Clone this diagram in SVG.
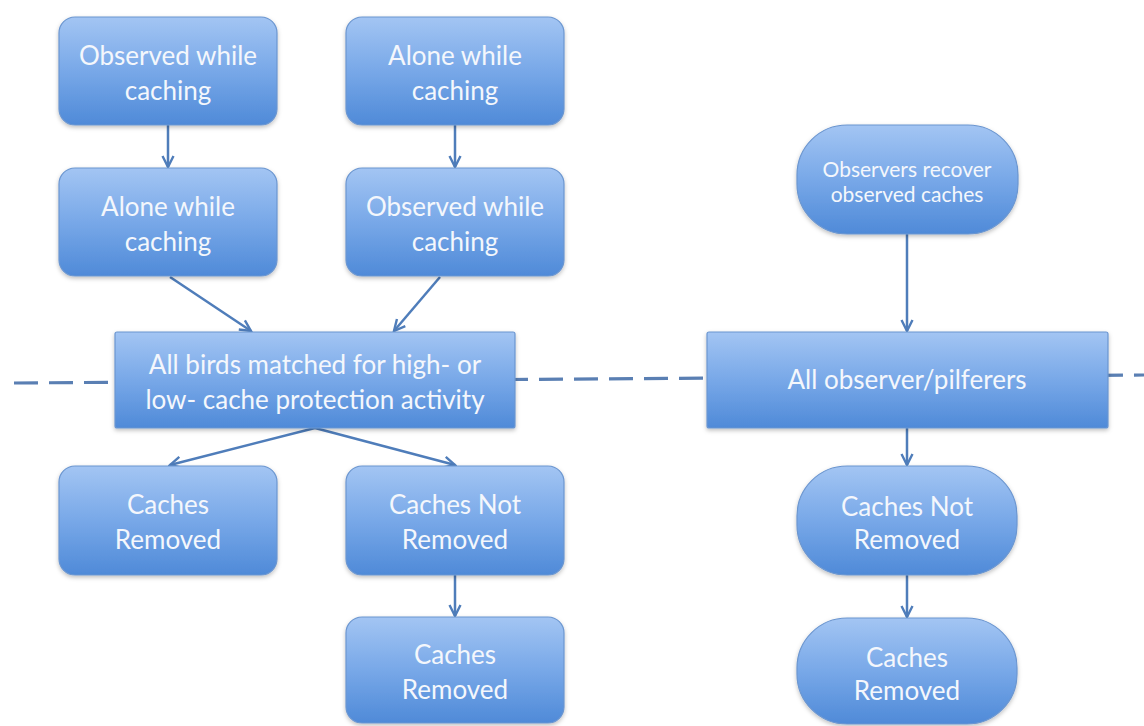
<svg xmlns="http://www.w3.org/2000/svg" width="1144" height="726" viewBox="0 0 1144 726">
<defs>
<linearGradient id="g" x1="0" y1="0" x2="0" y2="1">
<stop offset="0" stop-color="#a3c5f3"/>
<stop offset="0.5" stop-color="#78a8e8"/>
<stop offset="1" stop-color="#4f8ad8"/>
</linearGradient>
<filter id="sh" x="-10%" y="-10%" width="120%" height="130%">
<feDropShadow dx="0" dy="2" stdDeviation="2" flood-color="#000" flood-opacity="0.25"/>
</filter>
<marker id="ah" viewBox="0 0 14 14" refX="12" refY="7" markerWidth="14" markerHeight="14" markerUnits="userSpaceOnUse" orient="auto">
<path d="M1,1.5 L12,7 L1,12.5" fill="none" stroke="#4f7dba" stroke-width="2.4"/>
</marker>
</defs>
<style>
.box{fill:url(#g);stroke:#6b96d0;stroke-width:1.2;filter:url(#sh)}
.t{font-family:Lato,"Open Sans","Liberation Sans",sans-serif;fill:#f4f7fc;text-anchor:middle;font-size:26px}
.ts{font-size:21px}
.c{stroke:#4f7dba;stroke-width:2.5;fill:none;marker-end:url(#ah)}
.dash{stroke:#5a7fb3;stroke-width:3.2;fill:none;stroke-dasharray:24 11}
</style>
<rect width="1144" height="726" fill="#fff"/>
<g id="divider">
<line class="dash" x1="14" y1="383" x2="1144" y2="375"/>
</g>
<g id="connectors">
<line class="c" x1="168" y1="125" x2="168" y2="167"/>
<line class="c" x1="455" y1="125" x2="455" y2="167"/>
<line class="c" x1="170" y1="277" x2="251" y2="331"/>
<line class="c" x1="440" y1="277" x2="394" y2="331"/>
<line class="c" x1="315" y1="428" x2="170" y2="465"/>
<line class="c" x1="315" y1="428" x2="455" y2="465"/>
<line class="c" x1="455" y1="575" x2="455" y2="616"/>
<line class="c" x1="907" y1="234" x2="907" y2="331"/>
<line class="c" x1="907" y1="428" x2="907" y2="465"/>
<line class="c" x1="907" y1="575" x2="907" y2="617"/>
</g>
<g id="n1"><rect class="box" x="59" y="17" width="218" height="108" rx="16"/>
<text class="t" x="168" y="65">Observed while</text><text class="t" x="168" y="100">caching</text></g>
<g id="n2"><rect class="box" x="346" y="17" width="218" height="108" rx="16"/>
<text class="t" x="455" y="65">Alone while</text><text class="t" x="455" y="100">caching</text></g>
<g id="n3"><rect class="box" x="59" y="168" width="218" height="108" rx="16"/>
<text class="t" x="168" y="216">Alone while</text><text class="t" x="168" y="251">caching</text></g>
<g id="n4"><rect class="box" x="346" y="168" width="218" height="108" rx="16"/>
<text class="t" x="455" y="216">Observed while</text><text class="t" x="455" y="251">caching</text></g>
<g id="n5"><rect class="box" x="115" y="332" width="400" height="96" rx="2"/>
<text class="t" x="315" y="374">All birds matched for high- or</text><text class="t" x="315" y="409">low- cache protection activity</text></g>
<g id="n6"><rect class="box" x="59" y="466" width="218" height="109" rx="16"/>
<text class="t" x="168" y="514">Caches</text><text class="t" x="168" y="549">Removed</text></g>
<g id="n7"><rect class="box" x="346" y="466" width="218" height="109" rx="16"/>
<text class="t" x="455" y="514">Caches Not</text><text class="t" x="455" y="549">Removed</text></g>
<g id="n8"><rect class="box" x="346" y="617" width="218" height="106" rx="16"/>
<text class="t" x="455" y="664">Caches</text><text class="t" x="455" y="699">Removed</text></g>
<g id="n9"><rect class="box" x="797" y="125" width="221" height="109" rx="50"/>
<text class="t ts" x="907" y="177">Observers recover</text><text class="t ts" x="907" y="202">observed caches</text></g>
<g id="n10"><rect class="box" x="707" y="332" width="401" height="96" rx="2"/>
<text class="t" x="907" y="389">All observer/pilferers</text></g>
<g id="n11"><rect class="box" x="797" y="466" width="220" height="109" rx="50"/>
<text class="t" x="907" y="516">Caches Not</text><text class="t" x="907" y="549">Removed</text></g>
<g id="n12"><rect class="box" x="797" y="618" width="220" height="106" rx="50"/>
<text class="t" x="907" y="667">Caches</text><text class="t" x="907" y="700">Removed</text></g>
</svg>
